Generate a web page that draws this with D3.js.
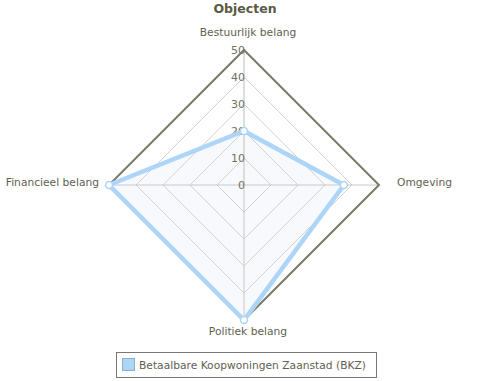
<!DOCTYPE html>
<html><head><meta charset="utf-8">
<script src="https://cdn.jsdelivr.net/npm/d3@7"></script>
<style>body{margin:0;background:#fff}svg{display:block;font-family:"DejaVu Sans",sans-serif}</style>
</head><body><svg id="c" width="492" height="381"></svg>
<script>
const title = "Objecten";
const axes = ["Bestuurlijk belang", "Omgeving", "Politiek belang", "Financieel belang"];
const seriesName = "Betaalbare Koopwoningen Zaanstad (BKZ)";
const values = [20, 37, 50, 50];
const ticks = [0, 10, 20, 30, 40, 50];

const svg = d3.select("#c");
const cx = 244, cy = 185, R = 135;
const r = d3.scaleLinear().domain([0, 50]).range([0, R]);
const ang = i => -Math.PI / 2 + i * 2 * Math.PI / axes.length;
const pt = (i, v) => [cx + Math.cos(ang(i)) * r(v), cy + Math.sin(ang(i)) * r(v)];

svg.append("text").attr("x", 245).attr("y", 13).attr("text-anchor", "middle")
  .attr("font-weight", "bold").attr("font-size", 12.5).attr("fill", "#5a5a42").text(title);

// series fill
const poly = values.map((v, i) => pt(i, v));
svg.append("polygon").attr("points", poly.map(p => p.join(",")).join(" "))
  .attr("fill", "#f7f9fd");

// grid rings
ticks.slice(1, -1).forEach(t => {
  svg.append("polygon").attr("points", axes.map((a, i) => pt(i, t).join(",")).join(" "))
    .attr("fill", "none").attr("stroke", "#d2d2d2").attr("stroke-width", 1);
});
// spokes
axes.forEach((a, i) => {
  const [x, y] = pt(i, 50);
  svg.append("line").attr("x1", cx).attr("y1", cy).attr("x2", x).attr("y2", y)
    .attr("stroke", i === 0 ? "#dcdcdc" : "#c8c8c8").attr("stroke-width", i === 0 ? 2 : 1);
});
// outer ring
svg.append("polygon").attr("points", axes.map((a, i) => pt(i, 50).join(",")).join(" "))
  .attr("fill", "none").attr("stroke", "#7a7a68").attr("stroke-width", 2);

// tick labels on top axis
ticks.forEach(t => {
  svg.append("text").attr("x", cx + 1).attr("y", cy - r(t) + 4).attr("text-anchor", "end")
    .attr("font-size", 11).attr("fill", "#727262").text(t);
});

// series line
svg.append("polygon").attr("points", poly.map(p => p.join(",")).join(" "))
  .attr("fill", "none").attr("stroke", "#acd5f8").attr("stroke-width", 4.5).attr("stroke-linejoin", "miter");
poly.forEach(p => {
  svg.append("circle").attr("cx", p[0]).attr("cy", p[1]).attr("r", 3.5)
    .attr("fill", "#fff").attr("stroke", "#acd5f8").attr("stroke-width", 1.5);
});

// axis labels
const lab = [
  {x: cx + 4, y: 36, a: "middle"},
  {x: 397, y: 186, a: "start"},
  {x: cx + 4, y: 335, a: "middle"},
  {x: 99, y: 186, a: "end"}
];
axes.forEach((a, i) => {
  svg.append("text").attr("x", lab[i].x).attr("y", lab[i].y).attr("text-anchor", lab[i].a)
    .attr("font-size", 10.7).attr("fill", "#5f5f4f").text(a);
});

// legend
svg.append("rect").attr("x", 116.5).attr("y", 352.5).attr("width", 260).attr("height", 25)
  .attr("fill", "#fff").attr("stroke", "#777").attr("stroke-width", 1);
svg.append("rect").attr("x", 122.5).attr("y", 358.5).attr("width", 12).attr("height", 12)
  .attr("fill", "#acd5f8").attr("stroke", "#8ab0d0").attr("stroke-width", 1);
svg.append("text").attr("x", 139).attr("y", 369).attr("font-size", 10.7).attr("fill", "#5f5f4f").text(seriesName);
</script></body></html>
